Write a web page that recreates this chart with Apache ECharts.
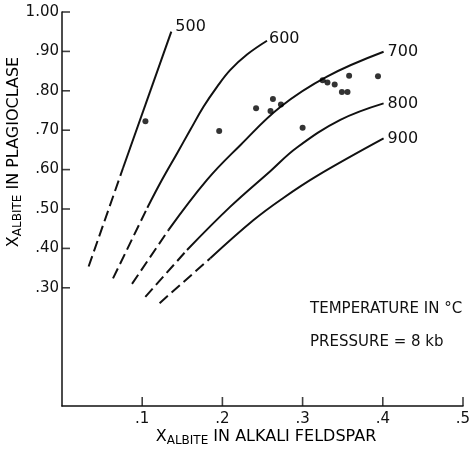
<!DOCTYPE html>
<html>
<head>
<meta charset="utf-8">
<script src="https://cdn.jsdelivr.net/npm/echarts@6/dist/echarts.min.js"></script>
<style>
  html, body { margin: 0; padding: 0; background: #fff; }
  #chart { width: 469px; height: 452px; }
</style>
</head>
<body>
<div id="chart"></div>
<script>
// tick positions
const xTicks = [0.1, 0.2, 0.3, 0.4, 0.5];
const yTicks = [0.3, 0.4, 0.5, 0.6, 0.7, 0.8, 0.9, 1.0];

// isotherms (deg C), solid part and dashed (extrapolated) part
const isotherms = ['500', '600', '700', '800', '900'];
const solid500 = [[0.0761, 0.604], [0.1363, 0.950]];
const dash500 = [[0.0332, 0.354], [0.0761, 0.604]];
const solid600 = [[0.1064, 0.503], [0.1247, 0.574], [0.1434, 0.641], [0.1600, 0.701], [0.1766, 0.760],
  [0.1933, 0.810], [0.2099, 0.853], [0.2307, 0.892], [0.2556, 0.927]];
const dash600 = [[0.0636, 0.324], [0.1064, 0.503]];
const solid700 = [[0.1329, 0.447], [0.1808, 0.574], [0.2223, 0.662], [0.2722, 0.759], [0.3304, 0.836], [0.4010, 0.899]];
const dash700 = [[0.0873, 0.310], [0.1329, 0.447]];
const solid800 = [[0.1559, 0.396], [0.2099, 0.506], [0.2597, 0.596], [0.2930, 0.656], [0.3470, 0.726], [0.4010, 0.768]];
const dash800 = [[0.1039, 0.277], [0.1559, 0.396]];
const solid900 = [[0.1849, 0.375], [0.2389, 0.472], [0.2759, 0.528], [0.3180, 0.584], [0.4010, 0.679]];
const dash900 = [[0.1217, 0.261], [0.1849, 0.375]];

// measured feldspar pairs
const samples = [
  [0.104, 0.723], [0.196, 0.698], [0.242, 0.756], [0.263, 0.779], [0.260, 0.749],
  [0.273, 0.765], [0.300, 0.706], [0.325, 0.827], [0.331, 0.821], [0.340, 0.816],
  [0.358, 0.838], [0.349, 0.797], [0.356, 0.797], [0.394, 0.837]
];

const solids = [solid500, solid600, solid700, solid800, solid900];
const dashes = [dash500, dash600, dash700, dash800, dash900];
const labelOffsets = [[0, -5], [-2, -2], [0, 0], [0, 0], [0, 0]];

const ink = '#111';
const font = 'DejaVu Sans';

const myChart = echarts.init(document.getElementById('chart'));

const series = [];
for (let i = 0; i < isotherms.length; i++) {
  series.push({
    name: isotherms[i],
    type: 'line',
    data: solids[i],
    smooth: 0.4,
    symbol: 'none',
    lineStyle: { color: ink, width: 2 },
    endLabel: {
      show: true,
      formatter: '{a}',
      distance: 4,
      offset: labelOffsets[i],
      color: ink,
      fontFamily: font,
      fontSize: 16,
    },
    z: 3,
  });
  series.push({
    type: 'line',
    data: dashes[i],
    symbol: 'none',
    lineStyle: { color: ink, width: 2, type: [11, 5] },
    z: 3,
  });
}
series.push({
  type: 'scatter',
  data: samples,
  symbol: 'circle',
  symbolSize: 6,
  itemStyle: { color: '#000' },
  z: 4,
});

// inward ticks only at the labelled values (small bars set on the axes)
series.push({
  type: 'scatter',
  silent: true,
  clip: false,
  data: yTicks.map(v => [0, v]),
  symbol: 'rect',
  symbolSize: [8, 1.6],
  symbolOffset: [4, 0],
  itemStyle: { color: ink },
  z: 5,
});
series.push({
  type: 'scatter',
  silent: true,
  clip: false,
  data: xTicks.map(v => [v, 0]),
  symbol: 'rect',
  symbolSize: [1.6, 9],
  symbolOffset: [0, -4.5],
  itemStyle: { color: ink },
  z: 5,
});

const titleRich = {
  m: { fontFamily: font, fontSize: 16, color: ink, lineHeight: 20, verticalAlign: 'middle' },
  s: { fontFamily: font, fontSize: 12, color: ink, lineHeight: 20, verticalAlign: 'bottom' },
};

const option = {
  animation: false,
  grid: { left: 62, right: 6, top: 12, bottom: 46, containLabel: false, outerBoundsMode: 'none' },
  xAxis: {
    type: 'value',
    min: 0,
    max: 0.5,
    interval: 0.1,
    splitLine: { show: false },
    axisLine: { lineStyle: { color: ink, width: 1.5 } },
    axisTick: { show: false },
    axisLabel: {
      customValues: xTicks,
      margin: 6,
      color: ink,
      fontFamily: font,
      fontSize: 15,
      formatter: v => '.' + Math.round(v * 10),
    },
  },
  yAxis: {
    type: 'value',
    min: 0,
    max: 1,
    interval: 0.1,
    splitLine: { show: false },
    axisLine: { lineStyle: { color: ink, width: 1.5 } },
    axisTick: { show: false },
    axisLabel: {
      customValues: yTicks,
      margin: 3,
      color: ink,
      fontFamily: font,
      fontSize: 15,
      formatter: v => (v >= 1 ? '1.00' : '.' + Math.round(v * 100)),
    },
  },
  graphic: [
    {
      type: 'text',
      x: 266,
      y: 437,
      style: {
        text: '{m|X}{s|ALBITE}{m| IN ALKALI FELDSPAR}',
        rich: titleRich,
        align: 'center',
        verticalAlign: 'middle',
      },
    },
    {
      type: 'text',
      x: 14,
      y: 152,
      rotation: Math.PI / 2,
      style: {
        text: '{m|X}{s|ALBITE}{m| IN PLAGIOCLASE}',
        rich: titleRich,
        align: 'center',
        verticalAlign: 'middle',
      },
    },
    {
      type: 'text',
      x: 310,
      y: 309,
      style: { text: 'TEMPERATURE IN °C', fill: ink, font: '15px "DejaVu Sans"', verticalAlign: 'middle' },
    },
    {
      type: 'text',
      x: 310,
      y: 342,
      style: { text: 'PRESSURE = 8 kb', fill: ink, font: '15px "DejaVu Sans"', verticalAlign: 'middle' },
    },
  ],
  series: series,
};

myChart.setOption(option);
</script>
</body>
</html>
